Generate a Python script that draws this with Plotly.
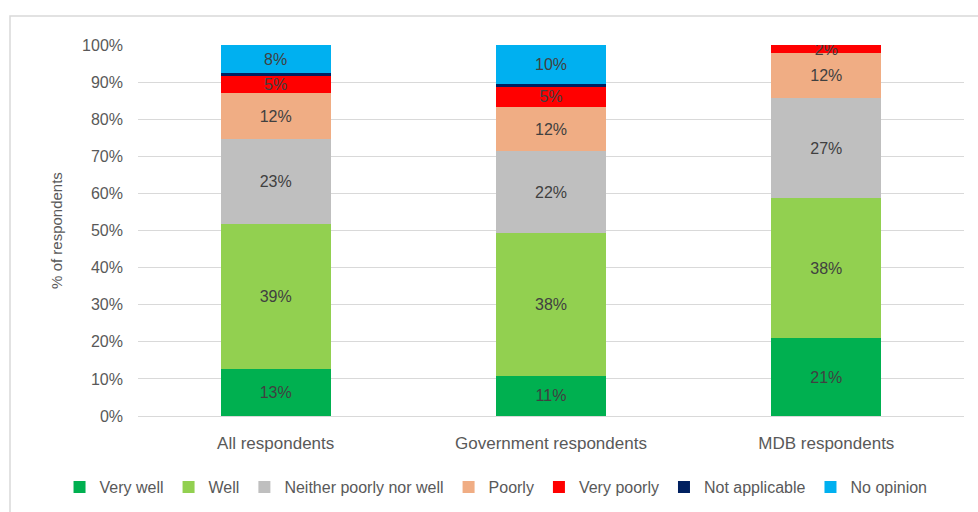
import plotly.graph_objects as go

categories = ["All respondents", "Government respondents", "MDB respondents"]
series_names = ["Very well", "Well", "Neither poorly nor well", "Poorly",
                "Very poorly", "Not applicable", "No opinion"]
very_well = [12.6, 10.9, 21.0]
well = [39.1, 38.4, 37.7]
neither = [22.9, 22.0, 26.9]
poorly = [12.4, 12.0, 12.2]
very_poorly = [4.6, 5.4, 2.2]
not_applicable = [0.8, 0.9, 0.0]
no_opinion = [7.6, 10.4, 0.0]
show_labels = [True, True, True, True, True, False, True]
colors = ["#00b050", "#92d050", "#bfbfbf", "#f0ad84", "#ff0000", "#002060", "#00b0f0"]

series = [very_well, well, neither, poorly, very_poorly, not_applicable, no_opinion]

fig = go.Figure()
for name, vals, col, lab in zip(series_names, series, colors, show_labels):
    text = [f"{v:.0f}%" if (lab and v > 0) else "" for v in vals]
    fig.add_trace(go.Bar(
        x=categories, y=vals, name=name, marker=dict(color=col, line=dict(width=0)),
        text=text, texttemplate="%{text}", textposition="inside",
        insidetextanchor="middle", constraintext="none",
        textfont=dict(color="#404040", size=16, family="Liberation Sans"),
        width=0.4,
    ))

fig.update_layout(
    barmode="stack",
    width=978, height=512,
    margin=dict(l=138, r=14, t=45, b=96, autoexpand=False),
    paper_bgcolor="white", plot_bgcolor="white",
    font=dict(family="Liberation Sans", color="#595959", size=15),
    showlegend=True,
    legend=dict(orientation="h", x=-0.095, y=(416 - 487) / 371, xanchor="left", yanchor="middle",
                font=dict(size=16, color="#595959"), traceorder="normal",
                itemwidth=30, tracegroupgap=0),
    xaxis=dict(showgrid=False, showline=True, linecolor="#d9d9d9", linewidth=1,
               ticks="", ticklabelstandoff=12, tickfont=dict(size=17, color="#595959")),
    yaxis=dict(range=[0, 100], tickvals=list(range(0, 101, 10)),
               ticktext=[f"{v}%" for v in range(0, 101, 10)],
               showgrid=True, gridcolor="#d9d9d9", gridwidth=1,
               zeroline=False, ticks="", ticklen=0, ticklabelstandoff=14,
               tickfont=dict(size=16, color="#595959"),
               title=dict(text="% of respondents", font=dict(size=15, color="#595959"), standoff=15)),
    shapes=[dict(type="rect", xref="paper", yref="paper",
                 x0=(10 - 138) / 826, x1=1.2, y0=-0.3, y1=(416 - 16) / 371,
                 line=dict(color="#d9d9d9", width=1.5), fillcolor="rgba(0,0,0,0)", layer="below")],
)

fig.write_html("out.html", config={"displayModeBar": False},
               post_script="document.body.style.margin='0';")
